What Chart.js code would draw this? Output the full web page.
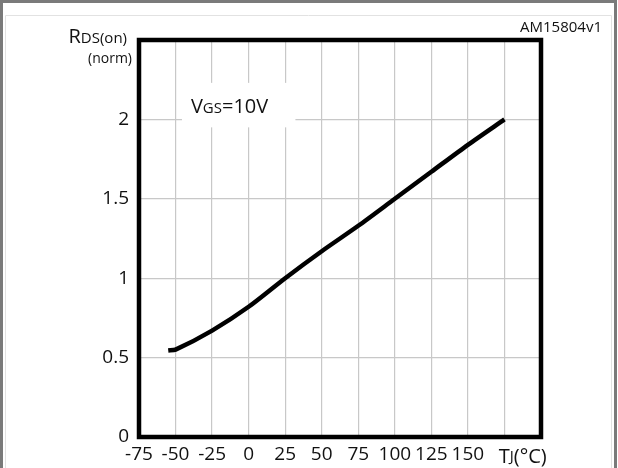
<!DOCTYPE html>
<html>
<head>
<meta charset="utf-8">
<style>
  html, body { margin: 0; padding: 0; background: #fff; }
  #wrap { position: relative; width: 618px; height: 468px; }
</style>
<script src="https://cdn.jsdelivr.net/npm/chart.js@4/dist/chart.umd.min.js"></script>
</head>
<body>
<div id="wrap"><canvas id="myChart" width="618" height="468"></canvas></div>
<script>
// datos
const temperaturas = [-55, -50, -25, 0, 25, 50, 75, 100, 125, 150, 175];
const rdsNorm = [0.545, 0.55, 0.67, 0.82, 1.0, 1.17, 1.33, 1.5, 1.67, 1.84, 2.0];
const ticksX = [-75, -50, -25, 0, 25, 50, 75, 100, 125, 150];
const ticksY = [0, 0.5, 1, 1.5, 2];

const FONT = '"Open Sans", "DejaVu Sans", sans-serif';

// dibuja texto con partes en subindice (tamaño menor)
function textoCompuesto(ctx, partes, x, y, align) {
    let ancho = 0;
    partes.forEach(p => {
        ctx.font = p.size + 'px ' + FONT;
        ancho += ctx.measureText(p.t).width;
    });
    let cx = align === 'right' ? x - ancho : (align === 'center' ? x - ancho / 2 : x);
    ctx.textAlign = 'left';
    ctx.textBaseline = 'alphabetic';
    partes.forEach(p => {
        ctx.font = p.size + 'px ' + FONT;
        ctx.fillText(p.t, cx, y - (p.up || 0));
        cx += ctx.measureText(p.t).width;
    });
}

const marco = {
    id: 'marco',
    beforeDraw(chart) {
        const ctx = chart.ctx;
        ctx.save();
        ctx.fillStyle = '#fff';
        ctx.fillRect(0, 0, chart.width, chart.height);
        // borde gris exterior
        ctx.strokeStyle = '#7a7a7a';
        ctx.lineWidth = 3;
        ctx.beginPath();
        ctx.moveTo(1.5, chart.height);
        ctx.lineTo(1.5, 1.5);
        ctx.lineTo(chart.width - 2.5, 1.5);
        ctx.lineTo(chart.width - 2.5, chart.height);
        ctx.stroke();
        // linea interior clara
        ctx.strokeStyle = '#e2e2e2';
        ctx.lineWidth = 1;
        ctx.beginPath();
        ctx.moveTo(5.5, chart.height);
        ctx.lineTo(5.5, 15.5);
        ctx.lineTo(611.5, 15.5);
        ctx.lineTo(611.5, chart.height);
        ctx.stroke();
        ctx.restore();
    },
    beforeDatasetsDraw(chart) {
        // caja blanca detras de la etiqueta VGS
        const ctx = chart.ctx;
        const x = chart.scales.x, y = chart.scales.y;
        const x0 = x.getPixelForValue(-45.6), x1 = x.getPixelForValue(32);
        const y0 = y.getPixelForValue(2.23), y1 = y.getPixelForValue(1.95);
        ctx.save();
        ctx.fillStyle = '#fff';
        ctx.fillRect(x0, y0, x1 - x0, y1 - y0);
        ctx.restore();
    },
    afterDraw(chart) {
        const ctx = chart.ctx;
        const a = chart.chartArea;
        const x = chart.scales.x, y = chart.scales.y;
        ctx.save();
        ctx.strokeStyle = '#000';
        ctx.lineWidth = 4.5;
        ctx.strokeRect(a.left, a.top, a.right - a.left, a.bottom - a.top);

        ctx.fillStyle = '#111';
        textoCompuesto(ctx, [{t: 'R', size: 20}, {t: 'DS(on)', size: 15}], a.left - 12, 43, 'right');
        textoCompuesto(ctx, [{t: '(norm)', size: 14}], a.left - 7, 63, 'right');

        textoCompuesto(ctx, [{t: 'V', size: 20}, {t: 'GS', size: 15}, {t: '=10V', size: 20}],
            x.getPixelForValue(-39.5), y.getPixelForValue(2.04), 'left');

        textoCompuesto(ctx, [{t: 'T', size: 20}, {t: 'J', size: 15, up: 2}, {t: '(°C)', size: 20}],
            x.getPixelForValue(187.5), a.bottom + 26, 'center');

        textoCompuesto(ctx, [{t: 'AM15804v1', size: 15}], 602, 32, 'right');
        ctx.restore();
    }
};

function renderGrafico() {
    const ctx = document.getElementById('myChart').getContext('2d');
    new Chart(ctx, {
        type: 'line',
        data: {
            datasets: [{
                label: 'RDS(on)',
                data: temperaturas.map((t, i) => ({x: t, y: rdsNorm[i]})),
                borderColor: '#000',
                borderWidth: 4.5,
                pointRadius: 0,
                tension: 0.25,
                fill: false
            }]
        },
        options: {
            responsive: false,
            animation: false,
            layout: { padding: { left: 0, top: 40, right: 77, bottom: 0 } },
            plugins: { legend: { display: false }, tooltip: { enabled: false } },
            scales: {
                x: {
                    type: 'linear',
                    min: -75,
                    max: 200,
                    afterBuildTicks: s => { s.ticks = [...ticksX, 175, 200].map(v => ({value: v})); },
                    afterFit: s => { s.height = 31; },
                    grid: { color: '#c8c8c8', lineWidth: 1.2, drawTicks: false },
                    border: { display: false },
                    ticks: {
                        padding: 6,
                        color: '#111',
                        font: { family: FONT, size: 19 },
                        maxRotation: 0,
                        autoSkip: false,
                        callback: v => ticksX.includes(v) ? String(v) : ''
                    }
                },
                y: {
                    min: 0,
                    max: 2.5,
                    afterBuildTicks: s => { s.ticks = [...ticksY, 2.5].map(v => ({value: v})); },
                    afterFit: s => { s.width = 139; },
                    grid: { color: '#c8c8c8', lineWidth: 1.2, drawTicks: false },
                    border: { display: false },
                    ticks: {
                        padding: 10,
                        color: '#111',
                        font: { family: FONT, size: 19 },
                        autoSkip: false,
                        callback: v => ticksY.includes(v) ? String(v) : ''
                    }
                }
            }
        },
        plugins: [marco]
    });
}

renderGrafico();
</script>
</body>
</html>
